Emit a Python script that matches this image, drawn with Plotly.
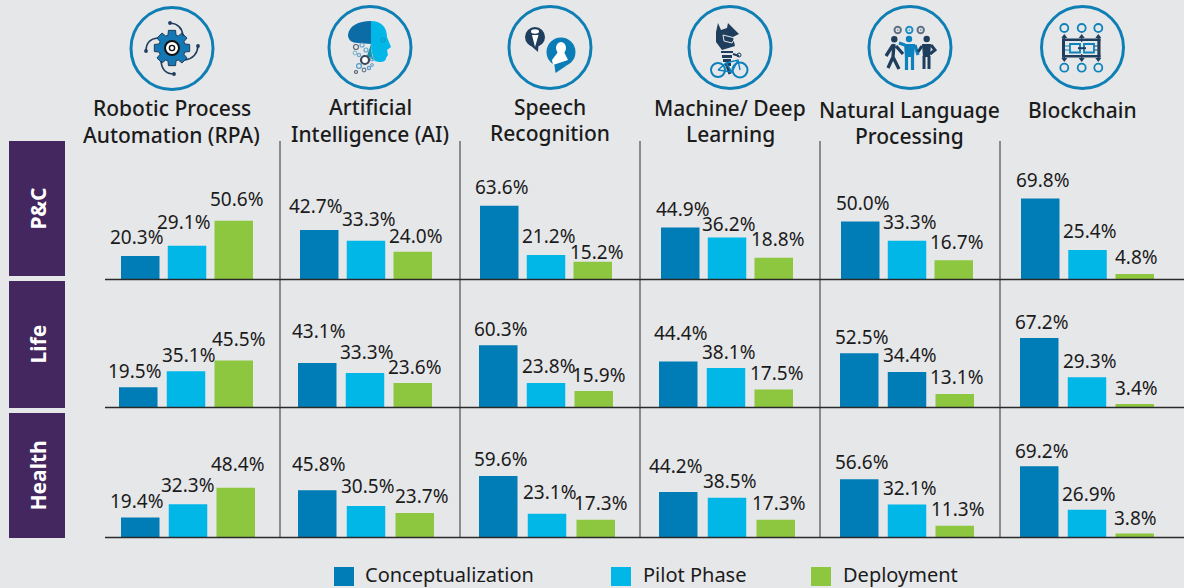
import math
import plotly.graph_objects as go

W, H = 1184, 588

# ---------- data ----------
phases = ["Conceptualization", "Pilot Phase", "Deployment"]
segments = ["P&C", "Life", "Health"]
technologies = [
    ["Robotic Process", "Automation (RPA)"],
    ["Artificial", "Intelligence (AI)"],
    ["Speech", "Recognition"],
    ["Machine/ Deep", "Learning"],
    ["Natural Language", "Processing"],
    ["Blockchain"],
]
pc_values = [[20.3, 29.1, 50.6], [42.7, 33.3, 24.0], [63.6, 21.2, 15.2],
             [44.9, 36.2, 18.8], [50.0, 33.3, 16.7], [69.8, 25.4, 4.8]]
life_values = [[19.5, 35.1, 45.5], [43.1, 33.3, 23.6], [60.3, 23.8, 15.9],
               [44.4, 38.1, 17.5], [52.5, 34.4, 13.1], [67.2, 29.3, 3.4]]
health_values = [[19.4, 32.3, 48.4], [45.8, 30.5, 23.7], [59.6, 23.1, 17.3],
                 [44.2, 38.5, 17.3], [56.6, 32.1, 11.3], [69.2, 26.9, 3.8]]
row_values = [pc_values, life_values, health_values]

# ---------- layout / style ----------
BG = "#E6E7E9"
DARK, LIGHT, GREEN = "#007DB6", "#00B7E8", "#8DC63F"
PURPLE = "#44275E"
NAVY = "#1F3D5C"
INK = "#1B1B1B"
FONT = "Noto Sans"
phase_colors = [DARK, LIGHT, GREEN]

row_top = [141, 281, 413]
row_base = [279.5, 407.5, 537.5]
row_scale = [1.16, 1.034, 1.03]
bar_w = 38.5
spans = [
    [(121, 253), (300, 432), (480, 612), (661, 793), (841, 973), (1021, 1154)],
    [(119, 253), (298, 432), (479, 613), (659, 793), (840, 974), (1020, 1154)],
    [(121, 255), (298, 434), (479, 615), (659, 795), (840, 974), (1020, 1154)],
]
label_centers = [
    [[(137, 237), (184, 222), (237, 199)], [(316, 206), (369, 219), (416, 236)],
     [(502, 187), (549, 236), (597, 252)], [(683, 209), (729, 224), (778, 239)],
     [(863, 203), (910, 222), (957, 242)], [(1043, 180), (1090, 231), (1136, 257)]],
    [[(135, 371), (189, 355), (239, 339)], [(319, 331), (367, 352), (415, 367)],
     [(501, 329), (549, 366), (599, 375)], [(681, 333), (729, 352), (777, 373)],
     [(862, 337), (910, 355), (957, 377)], [(1042, 322), (1090, 361), (1137, 388)]],
    [[(137, 501), (188, 485), (238, 464)], [(319, 464), (368, 486), (422, 496)],
     [(501, 459), (550, 492), (601, 503)], [(676, 466), (730, 481), (779, 503)],
     [(862, 462), (910, 488), (958, 509)], [(1042, 451), (1089, 494), (1136, 518)]],
]
header_pos = [(172, [108, 135]), (370, [107, 134]), (550, [107, 133]),
              (730, [108, 134]), (910, [109.5, 135.5]), (1082, [110])]


def px(x):
    return x / W


def py(y):
    return 1 - y / H


def path_of(points_cmds):
    """Build an SVG path in paper coordinates from pixel tuples / command letters."""
    out = []
    for t in points_cmds:
        if isinstance(t, str):
            out.append(t)
        else:
            out.append(f"{px(t[0]):.5f},{py(t[1]):.5f}")
    return " ".join(out)


shapes, annotations = [], []


def add_path(cmds, fill=None, line=None, lw=1):
    shapes.append(dict(type="path", xref="paper", yref="paper", path=path_of(cmds),
                       fillcolor=fill or "rgba(0,0,0,0)",
                       line=dict(color=line or "rgba(0,0,0,0)", width=lw if line else 0)))


def add_circle(cx, cy, r, fill=None, line=None, lw=1, ry=None):
    ry = r if ry is None else ry
    shapes.append(dict(type="circle", xref="paper", yref="paper",
                       x0=px(cx - r), x1=px(cx + r), y0=py(cy + ry), y1=py(cy - ry),
                       fillcolor=fill or "rgba(0,0,0,0)",
                       line=dict(color=line or "rgba(0,0,0,0)", width=lw if line else 0)))


def add_rect(x0, y0, x1, y1, fill, line_w=0):
    shapes.append(dict(type="rect", xref="paper", yref="paper",
                       x0=px(x0), x1=px(x1), y0=py(y1), y1=py(y0),
                       fillcolor=fill, line=dict(width=line_w, color=fill)))


def add_line(x0, y0, x1, y1, color, lw=1):
    shapes.append(dict(type="line", xref="paper", yref="paper",
                       x0=px(x0), x1=px(x1), y0=py(y0), y1=py(y1),
                       line=dict(color=color, width=lw)))


def add_text(text, x, y, size, color=INK, weight=400, angle=0):
    annotations.append(dict(text=text, x=px(x), y=py(y), xref="paper", yref="paper",
                            xanchor="center", yanchor="middle", showarrow=False, textangle=angle,
                            font=dict(family=FONT, size=size, color=color, weight=weight)))


# ---------- bar panels ----------
fig = go.Figure()
layout_axes = {}
n = 0
for r, values in enumerate(row_values):
    for c, vals in enumerate(values):
        n += 1
        left, right = spans[r][c]
        pitch = (right - left - bar_w) / 2
        gap = pitch - bar_w
        d0, d1 = left - gap / 2, right + gap / 2
        colors = list(phase_colors)
        if r == 1 and c == 4:
            colors[1] = DARK  # the reference draws this Pilot bar in the darker blue
        ymax = (row_base[r] - row_top[r]) / row_scale[r]
        suffix = "" if n == 1 else str(n)
        fig.add_trace(go.Bar(x=phases, y=vals, marker=dict(color=colors, line=dict(width=0)),
                             width=bar_w / pitch, showlegend=False, hoverinfo="x+y",
                             xaxis=f"x{suffix}", yaxis=f"y{suffix}"))
        layout_axes[f"xaxis{suffix}"] = dict(domain=[px(d0), px(d1)], anchor=f"y{suffix}", type="category",
                                             categoryorder="array", categoryarray=phases,
                                             range=[-0.5, 2.5], visible=False, fixedrange=True)
        layout_axes[f"yaxis{suffix}"] = dict(domain=[py(row_base[r]), py(row_top[r])], anchor=f"x{suffix}",
                                             range=[0, ymax], visible=False, fixedrange=True)
        for i, v in enumerate(vals):
            bar_cx = left + bar_w / 2 + i * pitch
            bar_top = row_base[r] - v * row_scale[r]
            lx, ly = label_centers[r][c][i]
            annotations.append(dict(text=f"{v:.1f}%", x=i, y=v, xref=f"x{suffix}", yref=f"y{suffix}",
                                    xanchor="center", yanchor="middle", showarrow=False,
                                    xshift=lx - bar_cx, yshift=bar_top - ly,
                                    font=dict(family=FONT, size=19, color=INK)))

# ---------- frame: segment boxes, rules ----------
for x in (280, 460, 640, 820, 1000):
    add_line(x, 141, x, 538, "#58595B", 1.3)
for y in row_base:
    add_line(105, y, W, y, "#2A2A2A", 1.3)
boxes = [(141, 276), (281, 408), (413, 538)]
for (y0, y1), name in zip(boxes, segments):
    add_rect(9, y0, 65, y1, PURPLE)
    add_text(name, 37, (y0 + y1) / 2, 21, "#FFFFFF", 700, -90)

# ---------- headers ----------
for (cx, ys), lines in zip(header_pos, technologies):
    for y, t in zip(ys, lines):
        add_text(t, cx, y, 21, INK, 500)

# ---------- legend ----------
for (x0, tx), name, col in zip([(334, 449.5), (611, 694.5), (811, 900.5)], phases, phase_colors):
    add_rect(x0, 567, x0 + 20, 586, col)
    add_text(name, tx, 574, 20, INK)

# ---------- icons ----------
for cx, cy in [(172, 48.5), (370, 47.5), (550, 47.5), (730, 47.5), (910, 47.5), (1082.5, 47.5)]:
    add_circle(cx, cy, 41, None, "#0E7FB4", 3)

# RPA gear
gx, gy = 172, 48
pts = []
teeth = 8
for k in range(teeth):
    a = 2 * math.pi * k / teeth
    for da, rad in [(-0.30, 13.5), (-0.2, 18), (0.2, 18), (0.30, 13.5)]:
        pts.append((gx + rad * math.cos(a + da), gy + rad * math.sin(a + da)))
add_path(["M"] + [pts[0]] + sum([["L", p] for p in pts[1:]], []) + ["Z"], "#1478B4", NAVY, 1)
add_circle(gx, gy, 7, "#FFFFFF", "#111111", 2)
add_circle(gx, gy, 2.6, "#FFFFFF", "#111111", 1.4)
for (ax, ay), (qx, qy), (bx, by) in [((170, 23), (182, 24), (183, 36)), ((198, 46), (197, 58), (185, 60)),
                                     ((174, 74), (162, 74), (161, 61)), ((146, 51), (146, 39), (158, 38))]:
    add_path(["M", (ax, ay), "Q", (qx, qy), (bx, by)], None, NAVY, 1.6)
    add_circle(ax, ay, 1.9, NAVY)

# AI head
add_path(["M", (371, 21), "C", (358, 21), (349, 26), (348, 35), "C", (348, 40), (352, 43), (358, 43),
          "L", (371, 44), "Z"], "#0B6CA6")
add_path(["M", (371, 21), "C", (382, 21), (387, 28), (387, 37), "L", (391, 47), "L", (387, 50), "L", (388, 55),
          "L", (386, 58), "C", (386, 62), (380, 63), (375, 61), "C", (372, 55), (371, 50), (371, 44), "Z"], LIGHT)
add_path(["M", (371, 44), "C", (371, 52), (372, 57), (375, 61), "L", (367, 56), "Z"], "#1592A8")
for x, y, rr, col in [(356, 47, 2.5, "#5B6B7A"), (362, 45, 2, "#6FA8CC"), (366, 50, 2, "#5FA8D3"),
                      (355, 53, 1.8, "#8FB8D0"), (359, 55, 1.6, "#6FA8CC"), (372, 59, 1.8, "#5FA8D3"),
                      (359, 66, 2.4, "#4F9CCB"), (364, 70, 1.8, "#6B7B8A"), (356, 72, 1.5, "#4F5F6F"),
                      (369, 68, 1.6, "#4F9CCB"), (372, 65, 1.3, "#6FA8CC")]:
    add_circle(x, y, rr, None, col, 1.2)
add_circle(365, 60, 4, "#FFFFFF", "#39495A", 2.2)
add_circle(383, 40, 2, None, "#0B8FB5", 0.8)

# Speech bubbles
add_circle(535, 37, 10, NAVY)
add_path(["M", (530, 45), "L", (538, 52), "L", (538.5, 45), "Z"], NAVY)
add_path(["M", (532, 35), "L", (535, 47), "L", (538.5, 35), "Z"], "#FFFFFF")
add_circle(535, 31.5, 4, "#FFFFFF", None, 0, ry=2.2)
add_circle(561, 52, 14.5, "#0B7DB6")
add_path(["M", (554, 62), "L", (555.5, 73), "L", (566, 66), "Z"], "#0B7DB6")
add_circle(561, 48, 5, "#FFFFFF", None, 0, ry=6)
add_path(["M", (558, 52), "L", (552, 60), "L", (553, 65), "L", (568, 60), "L", (564, 52), "Z"], "#FFFFFF")

# Machine / deep learning robot on a bike
add_path(["M", (718, 23), "L", (721, 30), "L", (727, 28), "L", (728, 23), "L", (739, 34), "L", (733, 37),
          "L", (735, 46), "L", (722, 50), "L", (716, 42), "L", (716, 32), "Z"], NAVY)
add_path(["M", (723, 35), "L", (735, 38), "L", (732, 43), "L", (724, 41), "Z"], None, BG, 1)
add_rect(721, 51, 733, 53, NAVY)
add_rect(722, 55, 732, 58, NAVY)
add_rect(723, 59, 731, 62, NAVY)
add_rect(725, 63, 731, 66, NAVY)
add_path(["M", (733, 54), "L", (739, 56)], None, NAVY, 2)
add_path(["M", (727, 66), "L", (730, 74)], None, NAVY, 3)
add_circle(718, 70, 7, None, "#0B82BE", 2)
add_circle(740, 70, 7.5, None, "#0B82BE", 2)
add_path(["M", (718, 70), "L", (726, 63), "L", (738, 60), "L", (740, 70), "M", (726, 63), "L", (732, 72),
          "L", (738, 60), "M", (718, 70), "L", (732, 72)], None, "#0B82BE", 1.4)
add_circle(739, 55, 2, None, NAVY, 1)

# NLP people
for x, col in [(897.7, "#5E7284"), (909.3, "#1E8FC6"), (920.7, "#5E7284")]:
    add_circle(x, 30, 3.2, None, col, 2)
    add_circle(x, 30, 0.8, col)
add_circle(894.3, 39.3, 3.2, NAVY)
add_path(["M", (894, 44), "L", (893, 57), "L", (888, 68), "M", (893, 57), "L", (899, 69),
          "M", (893, 45), "L", (886, 56), "M", (896, 46), "L", (903, 54)], None, NAVY, 3.3)
add_circle(909, 39, 3.2, "#0B82BE")
add_path(["M", (904, 44), "L", (915, 44), "L", (914, 57), "L", (905, 57), "Z"], "#0B82BE")
add_path(["M", (906.5, 56), "L", (906.5, 70), "M", (912.5, 56), "L", (912.5, 70), "M", (905, 45),
          "L", (899, 43), "M", (915, 45), "L", (918, 55)], None, "#0B82BE", 3.2)
add_circle(926.7, 39, 3.2, NAVY)
add_path(["M", (922, 44), "L", (931, 44), "L", (930, 57), "L", (923, 57), "Z"], NAVY)
add_path(["M", (924, 56), "L", (924, 69), "M", (929, 56), "L", (929, 69), "M", (931, 45), "L", (935, 50),
          "L", (930, 54), "M", (922, 46), "L", (918, 52)], None, NAVY, 3)

# Blockchain
for x in (1064.3, 1081.7, 1098.3):
    add_circle(x, 28, 4, None, "#0E82BC", 1.8)
    add_circle(x, 67.7, 4, None, "#0E82BC", 1.8)
    add_line(x, 35, x, 61, NAVY, 1.2)
    add_path(["M", (x - 3, 38), "L", (x, 34), "L", (x + 3, 38), "Z"], NAVY)
    add_path(["M", (x - 3, 58), "L", (x, 62), "L", (x + 3, 58), "Z"], NAVY)
add_rect(1062, 38.5, 1100.5, 41, NAVY)
add_rect(1062, 55, 1100.5, 57.5, NAVY)
add_rect(1062, 38.5, 1065, 57.5, NAVY)
add_rect(1097.5, 38.5, 1100.5, 57.5, NAVY)
add_rect(1070, 42, 1093, 54, BG)
add_line(1065, 46, 1070, 46, "#0E82BC", 1)
add_line(1065, 50, 1070, 50, "#0E82BC", 1)
add_line(1093, 46, 1097.5, 46, NAVY, 1)
add_line(1093, 50, 1097.5, 50, NAVY, 1)
shapes.append(dict(type="rect", xref="paper", yref="paper", x0=px(1070), x1=px(1080), y0=py(52.5), y1=py(44),
                   line=dict(color="#0E82BC", width=1.8), fillcolor="rgba(0,0,0,0)"))
shapes.append(dict(type="rect", xref="paper", yref="paper", x0=px(1084), x1=px(1094), y0=py(52.5), y1=py(44),
                   line=dict(color="#0E82BC", width=1.8), fillcolor="rgba(0,0,0,0)"))
add_line(1078, 48.2, 1086, 48.2, NAVY, 2)

fig.update_layout(width=W, height=H, margin=dict(l=0, r=0, t=0, b=0), autosize=False,
                  paper_bgcolor=BG, plot_bgcolor="rgba(0,0,0,0)", showlegend=False,
                  shapes=shapes, annotations=annotations, **layout_axes)
fig.write_html("out.html", config=dict(displayModeBar=False),
               post_script="document.body.style.margin='0';document.body.style.overflow='hidden';"
                           "document.documentElement.style.background='#E6E7E9';")
